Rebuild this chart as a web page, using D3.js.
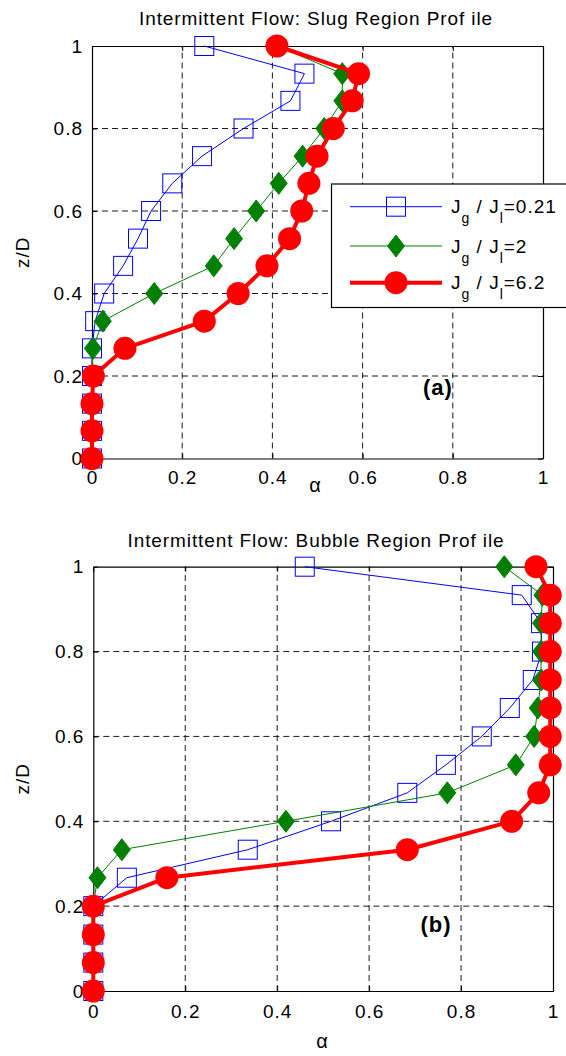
<!DOCTYPE html>
<html><head><meta charset="utf-8">
<script src="https://cdn.jsdelivr.net/npm/d3@7"></script>
<style>body{margin:0;background:#fff}svg{display:block}text{font-family:"Liberation Sans",Arial,sans-serif;fill:#000}</style>
</head><body><svg id="c" width="566" height="1056"></svg>
<script>
const zValues = [0, 0.067, 0.133, 0.2, 0.267, 0.333, 0.4, 0.467, 0.533, 0.6, 0.667, 0.733, 0.8, 0.867, 0.933, 1];
const ticks = [0, 0.2, 0.4, 0.6, 0.8, 1];
const seriesNames = ["0.21", "2", "6.2"];
// Panel (a) slug region
const slugLow = [0, 0, 0, 0, 0, 0.007, 0.027, 0.069, 0.102, 0.131, 0.178, 0.244, 0.336, 0.44, 0.471, 0.249];
const slugMid = [0, 0, 0, 0, 0.002, 0.024, 0.138, 0.27, 0.315, 0.364, 0.414, 0.467, 0.515, 0.555, 0.555, 0.41];
const slugHigh = [0, 0, 0, 0.003, 0.073, 0.249, 0.324, 0.388, 0.438, 0.465, 0.481, 0.499, 0.535, 0.577, 0.591, 0.41];
// Panel (b) bubble region
const bubLow = [0, 0, 0, 0, 0.073, 0.336, 0.517, 0.683, 0.767, 0.845, 0.906, 0.956, 0.976, 0.974, 0.932, 0.46];
const bubMid = [0, 0, 0, 0, 0.009, 0.062, 0.419, 0.77, 0.919, 0.959, 0.967, 0.974, 0.974, 0.974, 0.977, 0.894];
const bubHigh = [0, 0, 0, 0, 0.16, 0.683, 0.91, 0.969, 0.994, 0.994, 0.994, 0.994, 0.994, 0.994, 0.994, 0.963];

const svg = d3.select("#c");
const styles = [
  {color: "#0000ff", width: 1, marker: "square"},
  {color: "#008000", width: 1, marker: "diamond"},
  {color: "#ff0000", width: 4, marker: "circle"}
];

function marker(g, type, cx, cy, color) {
  if (type === "square") {
    g.append("rect").attr("x", cx - 9.5).attr("y", cy - 9.5).attr("width", 19).attr("height", 19)
      .attr("fill", "none").attr("stroke", color).attr("stroke-width", 1);
  } else if (type === "diamond") {
    g.append("path").attr("d", `M${cx},${cy - 11}L${cx + 8.5},${cy}L${cx},${cy + 11}L${cx - 8.5},${cy}Z`)
      .attr("fill", color).attr("stroke", color);
  } else {
    g.append("circle").attr("cx", cx).attr("cy", cy).attr("r", 11.5).attr("fill", color);
  }
}

function panel(cfg) {
  const x = d3.scaleLinear().domain([0, 1]).range([cfg.x0, cfg.x1]);
  const y = d3.scaleLinear().domain([0, 1]).range([cfg.y0, cfg.y1]);
  const g = svg.append("g");
  const inner = ticks.filter(t => t > 0 && t < 1);
  g.selectAll(".gx").data(inner).enter().append("line")
    .attr("x1", d => x(d)).attr("x2", d => x(d)).attr("y1", y(0)).attr("y2", y(1))
    .attr("stroke", "#000").attr("stroke-width", 0.9).attr("stroke-dasharray", "6,4");
  g.selectAll(".gy").data(inner).enter().append("line")
    .attr("y1", d => y(d)).attr("y2", d => y(d)).attr("x1", x(0)).attr("x2", x(1))
    .attr("stroke", "#000").attr("stroke-width", 0.9).attr("stroke-dasharray", "6,4");
  const fmt = d3.format("~g");
  g.append("g").attr("transform", `translate(0,${y(0)})`)
    .call(d3.axisBottom(x).tickValues(ticks).tickFormat(fmt).tickSize(-5).tickSizeOuter(0).tickPadding(cfg.xpad));
  g.append("g").attr("transform", `translate(${x(0)},0)`)
    .call(d3.axisLeft(y).tickValues(ticks).tickFormat(fmt).tickSize(-5).tickSizeOuter(0).tickPadding(9));
  g.append("g").attr("transform", `translate(0,${y(1)})`)
    .call(d3.axisTop(x).tickValues(ticks).tickFormat("").tickSize(-5).tickSizeOuter(0));
  g.append("g").attr("transform", `translate(${x(1)},0)`)
    .call(d3.axisRight(y).tickValues(ticks).tickFormat("").tickSize(-5).tickSizeOuter(0));
  g.selectAll(".domain").attr("stroke", "#000").attr("stroke-width", 1.2);
  g.selectAll(".tick line").attr("stroke", "#000");
  g.selectAll(".tick text").attr("font-size", 19).attr("letter-spacing", 1)
    .attr("font-family", '"Liberation Sans",Arial,sans-serif').attr("fill", "#000");
  g.append("text").attr("x", cfg.tx).attr("y", cfg.ty).attr("text-anchor", "middle").attr("font-size", 19)
    .attr("letter-spacing", 0.9).text(cfg.title);
  g.append("text").attr("transform", `translate(29,${(y(0) + y(1)) / 2}) rotate(-90)`)
    .attr("text-anchor", "middle").attr("font-size", 19).attr("letter-spacing", 1).text("z/D");
  g.append("text").attr("x", cfg.axx).attr("y", cfg.ay).attr("text-anchor", "middle").attr("font-size", 20).text("α");
  g.append("text").attr("x", cfg.lx).attr("y", cfg.ly).attr("text-anchor", "middle").attr("font-size", 22)
    .attr("font-weight", "bold").attr("letter-spacing", 1).text(cfg.label);
  const line = d3.line().x(d => x(d.a)).y(d => y(d.z));
  cfg.series.forEach((vals, i) => {
    const st = styles[i];
    const pts = vals.map((a, k) => ({a, z: zValues[k]}));
    const sg = g.append("g");
    sg.append("path").attr("d", line(pts)).attr("fill", "none").attr("stroke", st.color)
      .attr("stroke-width", st.width).attr("stroke-linejoin", "round");
    pts.forEach(p => marker(sg, st.marker, x(p.a), y(p.z), st.color));
  });
}

panel({x0: 92, x1: 543, y0: 458.5, y1: 46, title: "Intermittent Flow: Slug Region Prof ile", tx: 316, ty: 25,
  xpad: 12, axx: 315, ay: 492, lx: 438, ly: 395, label: "(a)", series: [slugLow, slugMid, slugHigh]});
panel({x0: 93.3, x1: 553, y0: 991, y1: 566.7, title: "Intermittent Flow: Bubble Region Prof ile", tx: 316, ty: 547,
  xpad: 14, axx: 322, ay: 1048, lx: 436, ly: 932, label: "(b)", series: [bubLow, bubMid, bubHigh]});

// legend
const lg = svg.append("g");
lg.append("rect").attr("x", 331.5).attr("y", 184).attr("width", 240).attr("height", 123.5)
  .attr("fill", "#fff").attr("stroke", "#000").attr("stroke-width", 1.2);
const rowsY = [206.7, 246, 282.7];
seriesNames.forEach((n, i) => {
  const st = styles[i];
  lg.append("line").attr("x1", 350).attr("x2", 442).attr("y1", rowsY[i]).attr("y2", rowsY[i])
    .attr("stroke", st.color).attr("stroke-width", st.width);
  marker(lg, st.marker, 396, rowsY[i], st.color);
  const t = lg.append("text").attr("x", 451).attr("y", rowsY[i] + 6.7).attr("font-size", 19).attr("letter-spacing", 1);
  t.append("tspan").text("J");
  t.append("tspan").attr("dy", 10).attr("font-size", 14).text("g");
  t.append("tspan").attr("dy", -10).text(" / J");
  t.append("tspan").attr("dy", 10).attr("font-size", 14).text("l");
  t.append("tspan").attr("dy", -10).text("=" + n);
});
</script></body></html>
